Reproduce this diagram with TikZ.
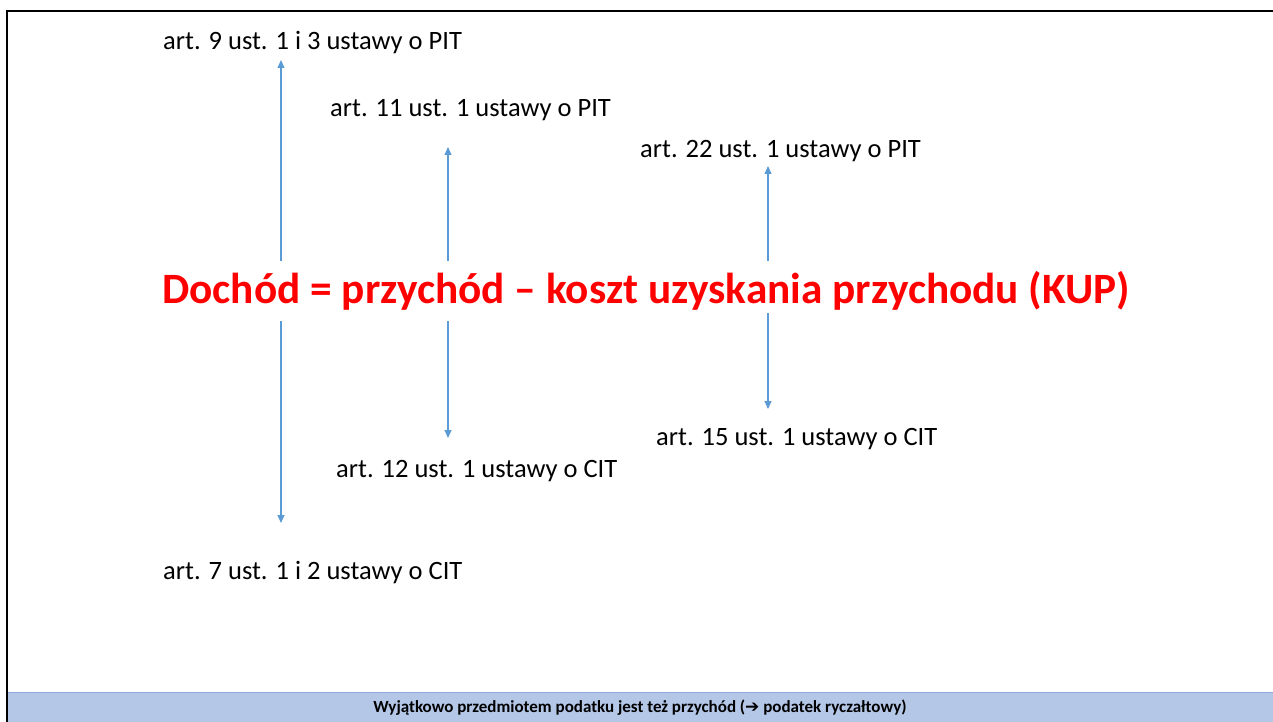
\documentclass[tikz,border=0pt]{standalone}
\usepackage{fontspec}
\setmainfont{Carlito}
\newfontfamily\symfont{DejaVu Sans}
\usetikzlibrary{arrows.meta}
\definecolor{arrowblue}{HTML}{5B9BD5}
\definecolor{barblue}{HTML}{B4C7E7}
\definecolor{baredge}{HTML}{8FAADC}
\tikzset{
  artlabel/.style={anchor=west, inner sep=0pt, font=\fontsize{26.5}{28}\selectfont},
  artarrow/.style={arrowblue, line width=1.1pt, -{Triangle[length=8pt, width=7pt]}},
}
\begin{document}
\begin{tikzpicture}[x=1pt, y=-1pt]
\useasboundingbox (0,0) rectangle (1273,722);

% _____ Bottom bar and frame
\fill[barblue] (8,692) rectangle (1273,722);
\draw[baredge, line width=1pt] (8,692) -- (1273,692);
\draw[black, line width=2.2pt] (7,722) -- (7,11) -- (1273,11);
\node[font=\bfseries\fontsize{17}{20}\selectfont, inner sep=0pt] (note) at (640,708)
  {Wyjątkowo przedmiotem podatku jest też przychód ({\symfont\bfseries ➔} podatek ryczałtowy)};

% _____ Main equation
\node[anchor=west, inner sep=0pt, text=red, font=\bfseries\fontsize{43.3}{48}\selectfont] (eq) at (162,291)
  {Dochód = przychód – koszt uzyskania przychodu (KUP)};

% _____ Article labels
\node[artlabel] (pitA) at (163,43) {art. 9 ust. 1 i 3 ustawy o PIT};
\node[artlabel] (pitB) at (330,110) {art. 11 ust. 1 ustawy o PIT};
\node[artlabel] (pitC) at (640,151) {art. 22 ust. 1 ustawy o PIT};
\node[artlabel] (citC) at (656,439) {art. 15 ust. 1 ustawy o CIT};
\node[artlabel] (citB) at (336,471) {art. 12 ust. 1 ustawy o CIT};
\node[artlabel] (citA) at (163,573) {art. 7 ust. 1 i 2 ustawy o CIT};

% _____ Arrow end points
\def\ArrowTop{261}
\def\ArrowBot{321}

\coordinate (a1) at (281,\ArrowTop);  \coordinate (t1) at (281,60);
\coordinate (b1) at (281,\ArrowBot);  \coordinate (s1) at (281,523);
\coordinate (a2) at (448,\ArrowTop);  \coordinate (t2) at (448,147);
\coordinate (b2) at (448,\ArrowBot);  \coordinate (s2) at (448,438);
\coordinate (a3) at (768,\ArrowTop);  \coordinate (t3) at (768,166);
\coordinate (b3) at (768,313);        \coordinate (s3) at (768,409);

\foreach \i in {1,2,3}{
  \draw[artarrow] (a\i) -- (t\i);
  \draw[artarrow] (b\i) -- (s\i);
}

\end{tikzpicture}
\end{document}
